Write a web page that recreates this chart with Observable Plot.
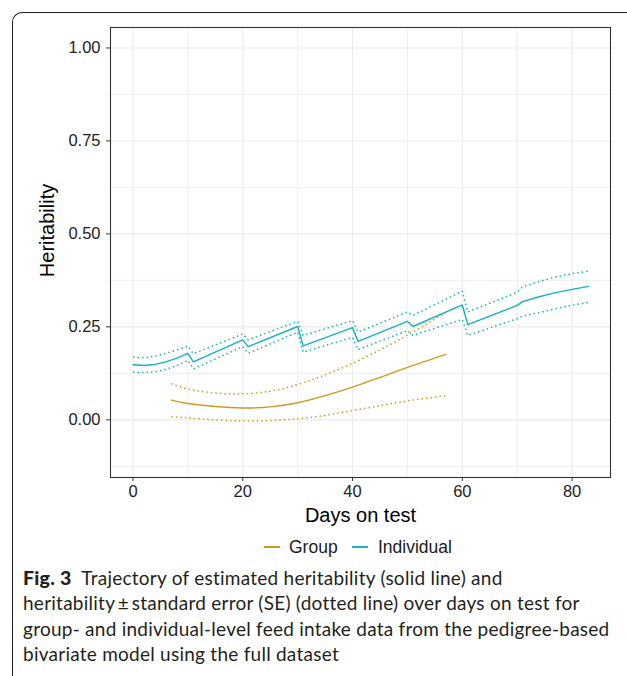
<!DOCTYPE html>
<html>
<head>
<meta charset="utf-8">
<script src="https://cdn.jsdelivr.net/npm/d3@7"></script>
<script src="https://cdn.jsdelivr.net/npm/@observablehq/plot@0.6"></script>
<style>
html, body { margin: 0; padding: 0; background: #fff; }
body { width: 627px; height: 676px; position: relative; overflow: hidden; font-family: "Liberation Sans", Arial, sans-serif; }
#box { position: absolute; z-index: 5; left: 12px; top: 12px; width: 660px; height: 720px; border-top: 1.4px solid #222; border-left: 1.4px solid #222; border-top-left-radius: 10px; box-sizing: border-box; pointer-events: none; }
#chart { position: absolute; left: 0; top: 0; z-index: 1; }
#legend { position: absolute; left: 0; top: 536px; width: 627px; height: 22px; font-size: 17.5px; color: #1a1a1a; }
#legend .key { position: absolute; top: 10px; height: 1.5px; }
#legend .lab { position: absolute; top: 0; line-height: 22px; white-space: nowrap; }
#caption { position: absolute; left: 23px; top: 565px; font-family: Lato, "Open Sans", sans-serif; font-size: 19px; letter-spacing: 0.25px; line-height: 25.3px; color: #231f20; white-space: nowrap; }
#caption b { font-weight: 900; font-size: 19.5px; }
</style>
</head>
<body>
<div id="box"></div>
<div id="chart"></div>
<div id="legend"></div>
<div id="caption"></div>
<script>
// ---- Data ----
const seriesNames = ["Group", "Individual"];

// Group-level heritability
const groupDays  = [7, 10, 15, 20, 25, 30, 35, 40, 45, 50, 57];
const groupH     = [0.053, 0.044, 0.036, 0.032, 0.035, 0.046, 0.065, 0.088, 0.114, 0.141, 0.176];
const groupUpper = [0.097, 0.083, 0.072, 0.070, 0.077, 0.095, 0.121, 0.152, 0.188, 0.228, 0.288];
const groupLower = [0.009, 0.005, 0.000, -0.003, -0.002, 0.003, 0.012, 0.025, 0.038, 0.051, 0.065];

// Individual-level heritability
const indDays  = [0, 2, 4, 6, 8, 10, 11, 20, 21, 30, 31, 40, 41, 50, 51, 60, 61, 70, 71, 74, 77, 80, 83];
const indH     = [0.148, 0.146, 0.149, 0.156, 0.166, 0.179, 0.156, 0.215, 0.197, 0.251, 0.199, 0.248, 0.211, 0.265, 0.251, 0.309, 0.256, 0.308, 0.318, 0.331, 0.342, 0.351, 0.359];
const indUpper = [0.169, 0.167, 0.171, 0.179, 0.188, 0.198, 0.178, 0.231, 0.215, 0.265, 0.227, 0.267, 0.236, 0.290, 0.281, 0.346, 0.290, 0.343, 0.358, 0.372, 0.384, 0.393, 0.400];
const indLower = [0.128, 0.127, 0.129, 0.136, 0.146, 0.160, 0.137, 0.197, 0.179, 0.236, 0.182, 0.222, 0.189, 0.240, 0.227, 0.270, 0.227, 0.272, 0.279, 0.288, 0.299, 0.308, 0.316];

// Axis ticks
const xTicks = [0, 20, 40, 60, 80];
const xMinor = [10, 30, 50, 70];
const yTicks = [0, 0.25, 0.5, 0.75, 1];
const yMinor = [-0.125, 0.125, 0.375, 0.625, 0.875];

const xLabel = "Days on test";
const yLabel = "Heritability";
const colors = ["#CF9B1D", "#12B2C1"];

// ---- Build tables ----
const groupData = groupDays.map((d, i) => ({day: d, est: groupH[i], upper: groupUpper[i], lower: groupLower[i], series: "Group"}));
const indData = indDays.map((d, i) => ({day: d, est: indH[i], upper: indUpper[i], lower: indLower[i], series: "Individual"}));

const gridStyle = {stroke: "#ebebeb", strokeOpacity: 1};
const dotOpts = {stroke: "series", strokeWidth: 1.5, strokeDasharray: "1.5,3", strokeLinecap: "butt"};

const plot = Plot.plot({
  width: 627,
  height: 530,
  marginLeft: 110,
  marginRight: 17,
  marginTop: 27,
  marginBottom: 53,
  x: {domain: [-4.1, 87.0]},
  y: {domain: [-0.155, 1.055]},
  color: {domain: seriesNames, range: colors},
  style: {fontFamily: "'Liberation Sans', Arial, sans-serif", fontSize: "16.5px", color: "#222", background: "transparent", overflow: "visible"},
  marks: [
    Plot.gridX({ticks: xMinor, ...gridStyle, strokeWidth: 0.8}),
    Plot.gridX({ticks: xTicks, ...gridStyle, strokeWidth: 1.1}),
    Plot.gridY({ticks: yMinor, ...gridStyle, strokeWidth: 0.8}),
    Plot.gridY({ticks: yTicks, ...gridStyle, strokeWidth: 1.1}),
    // Group
    Plot.line(groupData, {x: "day", y: "upper", ...dotOpts, curve: "natural"}),
    Plot.line(groupData, {x: "day", y: "lower", ...dotOpts, curve: "natural"}),
    Plot.line(groupData, {x: "day", y: "est", stroke: "series", strokeWidth: 1.4, curve: "natural"}),
    // Individual
    Plot.line(indData, {x: "day", y: "upper", ...dotOpts}),
    Plot.line(indData, {x: "day", y: "lower", ...dotOpts}),
    Plot.line(indData, {x: "day", y: "est", stroke: "series", strokeWidth: 1.4}),
    Plot.frame({stroke: "#333", strokeWidth: 1.1}),
    Plot.axisX({ticks: xTicks, tickSize: 4, tickPadding: 4, label: null, stroke: "#333", fontSize: 16.5}),
    Plot.axisY({ticks: yTicks, tickSize: 4, tickPadding: 6, label: null, stroke: "#333", tickFormat: d3.format(".2f"), fontSize: 16.5}),
    Plot.text([xLabel], {text: d => d, frameAnchor: "bottom", textAnchor: "middle", lineAnchor: "middle", dy: 38, fontSize: 20, fill: "#000"}),
    Plot.text([yLabel], {text: d => d, frameAnchor: "left", textAnchor: "middle", lineAnchor: "middle", dx: -63, dy: -22, rotate: -90, fontSize: 20, fill: "#000"})
  ]
});
document.getElementById("chart").appendChild(plot);

// ---- Legend ----
const legend = document.getElementById("legend");
const legendPos = [{key: 264, lab: 289}, {key: 352, lab: 378}];
seriesNames.forEach((name, i) => {
  const k = document.createElement("div");
  k.className = "key";
  k.style.left = legendPos[i].key + "px";
  k.style.width = "16px";
  k.style.background = colors[i];
  legend.appendChild(k);
  const l = document.createElement("div");
  l.className = "lab";
  l.style.left = legendPos[i].lab + "px";
  l.textContent = name;
  legend.appendChild(l);
});

// ---- Caption ----
const captionLines = [
  "<b>Fig. 3</b>&ensp;Trajectory of estimated heritability (solid line) and",
  "heritability\u2009±\u2009standard error (SE) (dotted line) over days on test for",
  "group- and individual-level feed intake data from the pedigree-based",
  "bivariate model using the full dataset"
];
document.getElementById("caption").innerHTML = captionLines.join("<br>");
</script>
</body>
</html>
